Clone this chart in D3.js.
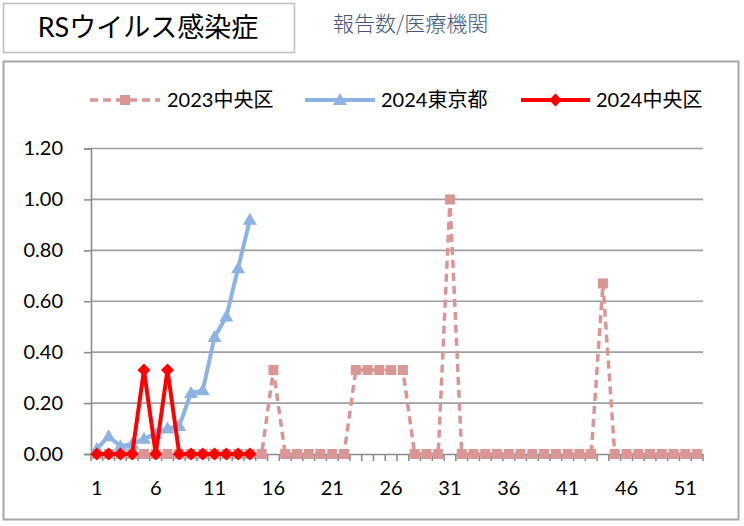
<!DOCTYPE html>
<html><head><meta charset="utf-8">
<script src="https://cdn.jsdelivr.net/npm/d3@7"></script>
<style>body{margin:0;background:#fff} svg{display:block}</style>
</head><body>
<svg id="c" width="744" height="526"></svg>
<script>
// ---- data ----
const weeks = [1,2,3,4,5,6,7,8,9,10,11,12,13,14,15,16,17,18,19,20,21,22,23,24,25,26,
               27,28,29,30,31,32,33,34,35,36,37,38,39,40,41,42,43,44,45,46,47,48,49,50,51,52];
const xTickLabels = [1,6,11,16,21,26,31,36,41,46,51];
const yTickValues = [0,0.2,0.4,0.6,0.8,1.0,1.2];
const seriesNames = ["2023中央区","2024東京都","2024中央区"];
const chuo2023 = [0,0,0,0,0,0,0,0,0,0,0,0,0,0,
                  0,0.33,0,0,0,0,0,0,0.33,0.33,0.33,0.33,0.33,0,0,0,1.0,
                  0,0,0,0,0,0,0,0,0,0,0,0,0.67,0,0,0,0,0,0,0,0];
const tokyo2024 = [0.02,0.07,0.03,0.04,0.06,0.08,0.10,0.11,0.24,0.25,0.46,0.54,0.73,0.92];
const chuo2024 = [0,0,0,0,0.33,0,0.33,0,0,0,0,0,0,0];
const titleText = "RSウイルス感染症";
const subtitleText = "報告数/医療機関";

// ---- drawing ----
const svg = d3.select("#c");
const FONT = "Lato, 'Noto Sans CJK JP', sans-serif";
svg.append("rect").attr("width",744).attr("height",526).attr("fill","#fff");

// title box
svg.append("rect").attr("x",3.5).attr("y",3.5).attr("width",291).attr("height",49)
  .attr("fill","#fff").attr("stroke","#bfbfbf").attr("stroke-width",1.5);
svg.append("text").attr("x",148).attr("y",37).attr("text-anchor","middle")
  .attr("font-family",FONT).attr("font-size",27).attr("fill","#000").text(titleText);
svg.append("text").attr("x",333).attr("y",31)
  .attr("font-family","'Noto Sans CJK JP', sans-serif").attr("font-weight",300)
  .attr("font-size",21).attr("fill","#44587a").text(subtitleText);

// chart frame
svg.append("rect").attr("x",3.5).attr("y",61.5).attr("width",735).attr("height",458)
  .attr("fill","#fff").attr("stroke","#a6a6a6").attr("stroke-width",2);

const x = d3.scaleBand().domain(weeks).range([91,703]).padding(0);
const y = d3.scaleLinear().domain([0,1.2]).range([454,148.5]);
const cx = w => x(w) + x.bandwidth()/2;

// gridlines
svg.append("g").selectAll("line").data(yTickValues.filter(v=>v>0)).join("line")
  .attr("x1",91).attr("x2",703).attr("y1",d=>y(d)).attr("y2",d=>y(d))
  .attr("stroke","#a0a0a0").attr("stroke-width",1.6);

// y axis
const ya = svg.append("g").attr("transform","translate(91,0)")
  .call(d3.axisLeft(y).tickValues(yTickValues).tickSize(7).tickPadding(21).tickFormat(d3.format(".2f")));
ya.select(".domain").attr("stroke","#8c8c8c").attr("stroke-width",1.6);
ya.selectAll(".tick line").attr("stroke","#8c8c8c").attr("stroke-width",1.6);
ya.selectAll("text").attr("font-family",FONT).attr("font-size",20).attr("fill","#000");

// x axis
const xa = svg.append("g").attr("transform","translate(0,454)")
  .call(d3.axisBottom(x).tickValues(xTickLabels).tickSize(0).tickPadding(27));
xa.select(".domain").attr("stroke","#8c8c8c").attr("stroke-width",1.6);
xa.selectAll("text").attr("font-family",FONT).attr("font-size",20).attr("fill","#000");
svg.append("g").selectAll("line").data(weeks.concat([null])).join("line")
  .attr("x1",d=>d===null? x.range()[1] : x(d)).attr("x2",d=>d===null? x.range()[1] : x(d))
  .attr("y1",454).attr("y2",461).attr("stroke","#8c8c8c").attr("stroke-width",1.6);

// marker paths
const sq = "M-5,-5H5V5H-5Z";
const tri = "M0,-7L7,5L-7,5Z";
const dia = "M0,-6.5L6.5,0L0,6.5L-6.5,0Z";

const series = [
  {name:seriesNames[0], data:chuo2023, color:"#d99694", dash:"8,5", marker:sq, w:3.5},
  {name:seriesNames[1], data:tokyo2024, color:"#8db3e2", dash:null, marker:tri, w:4},
  {name:seriesNames[2], data:chuo2024, color:"#ff0000", dash:null, marker:dia, w:4}
];
const line = d3.line().x((d,i)=>cx(weeks[i])).y(d=>y(d));
series.forEach(s=>{
  const g = svg.append("g");
  g.append("path").attr("d",line(s.data)).attr("fill","none").attr("stroke",s.color)
    .attr("stroke-width",s.w).attr("stroke-dasharray",s.dash).attr("stroke-linejoin","round");
  g.selectAll("path.m").data(s.data).join("path").attr("class","m")
    .attr("d",s.marker).attr("transform",(d,i)=>`translate(${cx(weeks[i])},${y(d)})`)
    .attr("fill",s.color);
});

// legend
const legendItems = [
  {x1:90,x2:160,tx:167},
  {x1:305,x2:375,tx:381},
  {x1:521,x2:590,tx:596}
];
const ly = 100;
series.forEach((s,i)=>{
  const L = legendItems[i];
  const g = svg.append("g");
  g.append("line").attr("x1",L.x1).attr("x2",L.x2).attr("y1",ly).attr("y2",ly)
    .attr("stroke",s.color).attr("stroke-width",s.w).attr("stroke-dasharray",s.dash);
  g.append("path").attr("d",s.marker).attr("transform",`translate(${(L.x1+L.x2)/2},${ly})`).attr("fill",s.color);
  g.append("text").attr("x",L.tx).attr("y",ly+7).attr("font-family",FONT).attr("font-size",20)
    .attr("fill","#000").text(s.name);
});
</script>
</body></html>
